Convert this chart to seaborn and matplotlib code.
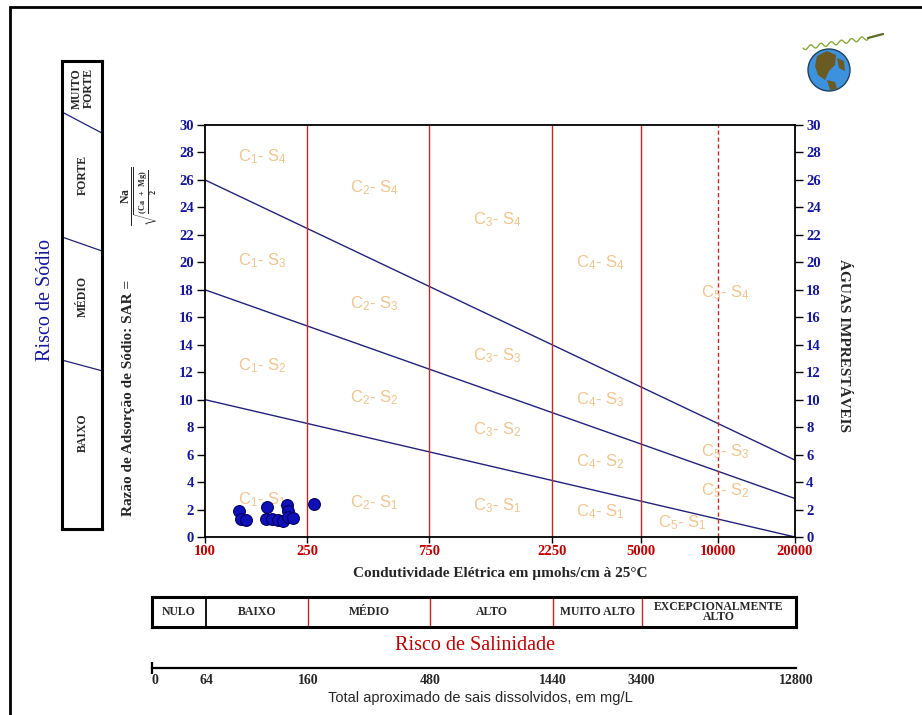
import numpy as np
import pandas as pd
import matplotlib
matplotlib.use("Agg")
import matplotlib.pyplot as plt
from matplotlib.patches import Circle, Polygon, Rectangle
from matplotlib.ticker import FixedLocator, NullFormatter, FixedFormatter
import seaborn as sns

# --- data -------------------------------------------------------------
ec_ticks = [100, 250, 750, 2250, 5000, 10000, 20000]
ec_classes = [250, 750, 2250, 5000]          # solid class limits
ec_dashed = 10000
sar_ticks = list(range(0, 31, 2))

# sodium hazard limits (straight in log EC)
sar_at_100 = [10, 18, 26]
sar_at_20000 = [0, 2.8, 5.6]

# samples
sample_ec = [136, 138, 145, 173, 174, 183, 193, 202, 208, 211, 211, 221, 267]
sample_sar = [1.92, 1.29, 1.24, 1.29, 2.21, 1.29, 1.24, 1.19, 2.33, 1.92, 1.48, 1.36, 2.40]

sodio_classes = ["BAIXO", "MÉDIO", "FORTE", "MUITO\nFORTE"]
sal_classes = ["NULO", "BAIXO", "MÉDIO", "ALTO", "MUITO ALTO", "EXCEPCIONALMENTE\nALTO"]
tds_labels = ["0", "64", "160", "480", "1440", "3400", "12800"]

# zone labels (C class, S class) and where they sit (ec, sar)
zones = [(1, 4, 167, 27.7), (2, 4, 456, 25.4), (3, 4, 1377, 23.1), (4, 4, 3475, 20.0), (5, 4, 10700, 17.8),
         (1, 3, 167, 20.1), (2, 3, 456, 17.0), (3, 3, 1377, 13.2), (4, 3, 3475, 10.0), (5, 3, 10700, 6.2),
         (1, 2, 167, 12.5), (2, 2, 456, 10.1), (3, 2, 1377, 7.8), (4, 2, 3475, 5.5), (5, 2, 10700, 3.35),
         (1, 1, 167, 2.7), (2, 1, 456, 2.5), (3, 1, 1377, 2.3), (4, 1, 3475, 1.8), (5, 1, 7250, 1.0)]

W, H = 922, 715
BLUE = "#16169a"
RED = "#c00000"
LINE_RED = "#c62828"
NAVY = "#22227a"
TAN = "#f0c590"


def box(l, t, r, b):
    return [l / W, 1 - b / H, (r - l) / W, (b - t) / H]


def px(x, y):
    return x / W, 1 - y / H


sns.set_theme(style="white")
plt.rcParams["font.family"] = ["Liberation Serif", "DejaVu Serif"]
plt.rcParams["mathtext.fontset"] = "custom"
plt.rcParams["mathtext.rm"] = "Liberation Sans"
plt.rcParams["mathtext.bf"] = "Liberation Serif:bold"
plt.rcParams["mathtext.it"] = "Liberation Serif:italic"

fig = plt.figure(figsize=(W / 100, H / 100), dpi=100)
fig.patch.set_facecolor("white")

# outer frame
fig.patches.append(Rectangle(px(10, 730), 940 / W, 723 / H, transform=fig.transFigure,
                             fill=False, edgecolor="black", linewidth=2))

# --- main diagram -----------------------------------------------------
ax = fig.add_axes(box(205, 125, 795, 537))
ax.set_xscale("log")

lines = pd.DataFrame({
    "ec": [100, 20000] * 3,
    "sar": [v for pair in zip(sar_at_100, sar_at_20000) for v in pair],
    "line": [0, 0, 1, 1, 2, 2],
})
sns.lineplot(data=lines, x="ec", y="sar", units="line", estimator=None,
             color=NAVY, linewidth=1, ax=ax)

for e in ec_classes:
    ax.axvline(e, color=LINE_RED, linewidth=1)
ax.axvline(ec_dashed, color=LINE_RED, linewidth=1, linestyle=(0, (3, 2)))

for c, s, xe, ys in zones:
    ax.text(xe, ys, f"C$_{c}$- S$_{s}$", color=TAN, fontsize=12, family="Liberation Sans",
            ha="center", va="center")

sns.scatterplot(x=sample_ec, y=sample_sar, s=72, color="#1010b8", edgecolor="#000060",
                linewidth=0.8, zorder=5, ax=ax)

ax.set_xlim(100, 20000)
ax.set_ylim(0, 30)
ax.xaxis.set_major_locator(FixedLocator(ec_ticks))
ax.xaxis.set_major_formatter(FixedFormatter([str(v) for v in ec_ticks]))
ax.xaxis.set_minor_locator(FixedLocator([]))
ax.set_yticks(sar_ticks)
ax.tick_params(axis="y", which="major", direction="out", length=6, width=1, color="black",
               labelcolor=BLUE, labelsize=10.5, pad=2, left=True)
ax.tick_params(axis="x", which="major", direction="out", length=4, width=1, color="black",
               labelcolor=RED, labelsize=10.5, pad=2, bottom=True)
for lab in ax.get_xticklabels() + ax.get_yticklabels():
    lab.set_fontweight("bold")
for sp in ax.spines.values():
    sp.set_color("black")
    sp.set_linewidth(1.3)
ax.set_xlabel("")
ax.set_ylabel("")

ax2 = ax.twinx()
ax2.set_ylim(0, 30)
ax2.set_yticks(sar_ticks)
ax2.tick_params(axis="y", direction="out", length=6, width=1, color="black",
                labelcolor=BLUE, labelsize=10.5, pad=2, right=True)
for lab in ax2.get_yticklabels():
    lab.set_fontweight("bold")
ax2.grid(False)
for sp in ax2.spines.values():
    sp.set_visible(False)

fig.text(*px(500, 574), "Condutividade Elétrica em µmohs/cm à 25°C", ha="center", va="center",
         fontsize=11, fontweight="bold")
fig.text(*px(843, 346), "ÁGUAS IMPRESTÁVEIS", rotation=-90, ha="center", va="center",
         fontsize=11, fontweight="bold")
fig.text(*px(128, 398), "Razão de Adsorção de Sódio: SAR =", rotation=90, ha="center", va="center",
         fontsize=11, fontweight="bold")
fig.text(*px(140, 196), r"$\frac{\mathbf{Na}}{\sqrt{\frac{\mathbf{(Ca\ \ +\ \ Mg)}}{\mathbf{2}}}}$",
         rotation=90, ha="center", va="center", fontsize=12)
fig.text(*px(45, 300), "Risco de Sódio", rotation=90, ha="center", va="center",
         fontsize=14.5, color=BLUE)

# --- sodium hazard panel ---------------------------------------------
axs = fig.add_axes(box(62, 61, 102, 529))
axs.set_xlim(0, 1)
axs.set_ylim(0, 1)
axs.set_xticks([])
axs.set_yticks([])
for sp in axs.spines.values():
    sp.set_color("black")
    sp.set_linewidth(2.2)
for yl, yr in [(0.361, 0.338), (0.624, 0.594), (0.891, 0.846)]:
    axs.plot([0, 1], [yl, yr], color=NAVY, linewidth=0.9)
for lab, yc in zip(sodio_classes, [0.205, 0.496, 0.756, 0.942]):
    axs.text(0.52, yc, lab, rotation=90, ha="center", va="center", fontsize=8.5,
             fontweight="bold", linespacing=1.0)

# --- salinity hazard bar ---------------------------------------------
span = (796 - 152) / (795 - 205)
lo = 20000 / 200 ** span
bounds = [lo, 100] + ec_classes + [20000]

axb = fig.add_axes(box(152, 597, 796, 627))
axb.set_xscale("log")
axb.set_xlim(lo, 20000)
axb.set_ylim(0, 1)
axb.set_xticks([])
axb.set_yticks([])
axb.xaxis.set_minor_locator(FixedLocator([]))
axb.axvline(100, color="black", linewidth=1.3)
for e in ec_classes:
    axb.axvline(e, color=LINE_RED, linewidth=1)
for lab, a, b in zip(sal_classes, bounds[:-1], bounds[1:]):
    axb.text(np.sqrt(a * b), 0.5, lab, ha="center", va="center", fontsize=8.5,
             fontweight="bold", linespacing=0.85)
for sp in axb.spines.values():
    sp.set_color("black")
    sp.set_linewidth(2.2)

fig.text(*px(475, 645), "Risco de Salinidade", ha="center", va="center", fontsize=14.5, color=RED)

# --- total dissolved solids scale -------------------------------------
axt = fig.add_axes(box(152, 667, 796, 668))
axt.set_xscale("log")
axt.set_xlim(lo, 20000)
axt.set_yticks([])
for name, sp in axt.spines.items():
    sp.set_visible(name == "bottom")
axt.spines["bottom"].set_color("black")
axt.spines["bottom"].set_linewidth(1.6)
axt.xaxis.set_major_locator(FixedLocator([lo * 1.03, 100, 250, 750, 2250, 5000, 20000]))
axt.xaxis.set_major_formatter(FixedFormatter(tds_labels))
axt.xaxis.set_minor_locator(FixedLocator([lo, 20000]))
axt.xaxis.set_minor_formatter(NullFormatter())
axt.tick_params(axis="x", which="major", length=0, labelsize=10, pad=4, bottom=True)
axt.tick_params(axis="x", which="minor", length=9, width=1.6, direction="inout", color="black",
                bottom=True)
for lab in axt.get_xticklabels():
    lab.set_fontweight("bold")

fig.text(*px(480, 698), "Total aproximado de sais dissolvidos, em mg/L", ha="center", va="center",
         fontsize=10.5, family="Liberation Sans")

# --- logo -------------------------------------------------------------
axl = fig.add_axes(box(795, 28, 890, 100))
axl.set_xlim(0, 95)
axl.set_ylim(72, 0)
axl.set_aspect("equal")
axl.axis("off")
axl.add_patch(Circle((34, 42), 21, facecolor="#3c92dc", edgecolor="#22415e", linewidth=1))
axl.add_patch(Polygon([(22, 28), (32, 23), (41, 27), (40, 37), (34, 43), (30, 52), (23, 47), (20, 38)],
                      facecolor="#6b5a22", edgecolor="none"))
axl.add_patch(Polygon([(32, 52), (40, 54), (42, 61), (35, 62)], facecolor="#6b5a22", edgecolor="none"))
axl.add_patch(Polygon([(42, 30), (49, 33), (50, 43), (44, 40)], facecolor="#6b5a22", edgecolor="none"))
t = np.linspace(0, 1, 60)
axl.plot(8 + 65 * t, 20 - 10 * t + 2 * np.sin(t * 40), color="#8aa83a", linewidth=1)
axl.plot([73, 88], [10, 6], color="#5a6a20", linewidth=1.6)

fig.savefig("out.png", dpi=100, facecolor="white")
